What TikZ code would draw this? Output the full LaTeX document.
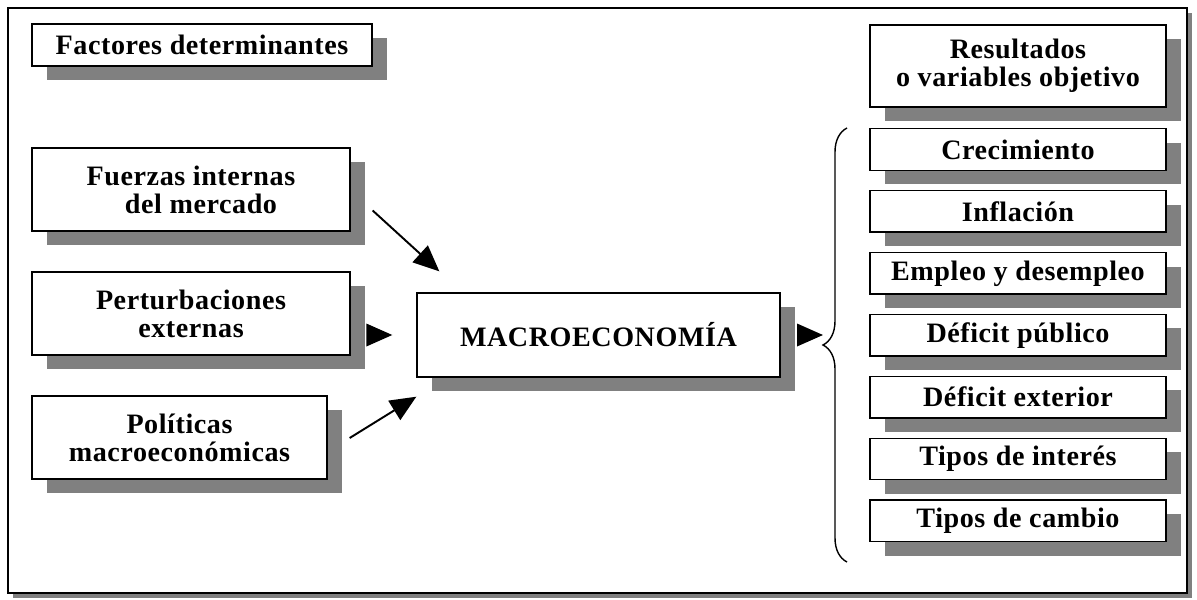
\documentclass[tikz,border=0pt]{standalone}
\usepackage{fontspec}
\setmainfont{Liberation Serif}
\usepackage{tikz}
\usetikzlibrary{arrows.meta, positioning, calc, shadows, decorations.pathreplacing}
\definecolor{shadowgray}{HTML}{808080}

\begin{document}
\begin{tikzpicture}[x=0.02cm, y=-0.02cm,
    box/.style={draw, thick, fill=white, inner sep=0pt, align=center,
      font=\bfseries\fontsize{16}{16}\selectfont\addfontfeature{LetterSpace=2},
      general shadow={fill=shadowgray, shadow xshift=0.3cm, shadow yshift=-0.28cm}},
    bigbox/.style={box, minimum width=6.36cm, minimum height=1.66cm},
    resbox/.style={box, minimum width=5.92cm, minimum height=0.83cm},
    arr/.style={-{Triangle[length=0.52cm, width=0.45cm]}, line width=1.1pt}]
    \useasboundingbox (0,0) rectangle (1197,599);
    \draw[thick, fill=white, general shadow={fill=shadowgray, shadow xshift=0.1cm, shadow yshift=-0.1cm}] (8,8) rectangle (1187,593);

    \node[box, minimum width=6.8cm, minimum height=0.84cm] (factores) at (202,45) {Factores determinantes};
    \node[bigbox] (fuerzas) at (191,189.5) {Fuerzas internas\\\hspace*{0.4cm}del mercado};
    \node[bigbox] (perturb) at (191,313.5) {Perturbaciones\\externas};
    \node[bigbox, minimum width=5.9cm] (politicas) at (179.5,437.5) {Políticas\\macroeconómicas};
    \node[box, minimum width=7.26cm, minimum height=1.68cm] (macro) at (598.5,335) {MACROECONOMÍA};

    \node[box, minimum width=5.92cm, minimum height=1.64cm] (resultados) at (1018,66) {Resultados\\o variables objetivo};
    \foreach \txt [count=\i] in {Crecimiento, Inflación, Empleo y desempleo, Déficit público, Déficit exterior, Tipos de interés, Tipos de cambio}
        \node[resbox] (res\i) at (1018,{149.5+61.9*(\i-1)}) {\txt};

    \draw[arr] ($(fuerzas.east)+(22,21)$) -- ($(macro.north west)+(23,-21)$);
    \draw[arr, shorten <=0.36cm, shorten >=0.48cm] (perturb.east |- macro.west) -- (macro.west);
    \draw[arr] ($(politicas.east)+(22,0.5)$) -- ($(macro.south west)+(0,19)$);

    \coordinate (bracetip) at (823,345);
    \draw[arr, shorten <=0.36cm] (macro.east) -- (bracetip |- macro.east);
    \draw[thick, decorate, decoration={brace, amplitude=0.48cm}] (847,562) -- (847,128);
\end{tikzpicture}
\end{document}
